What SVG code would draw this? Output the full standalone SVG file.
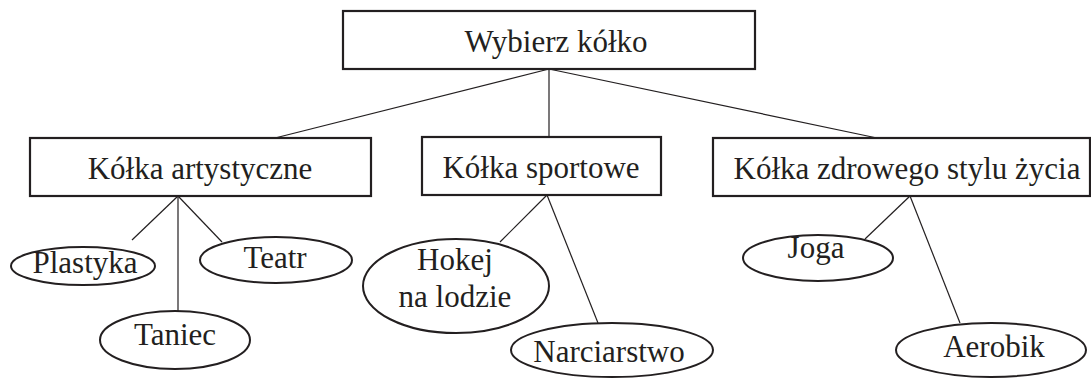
<svg xmlns="http://www.w3.org/2000/svg" width="1091" height="378" viewBox="0 0 1091 378">
<style>
.box{fill:#fff;stroke:#231f20;stroke-width:2.2}
.ell{fill:#fff;stroke:#231f20;stroke-width:2}
.con line{stroke:#231f20;stroke-width:1.2}
text{font-family:"Liberation Serif","Times New Roman",serif;font-size:31px;fill:#231f20;text-anchor:middle}
</style>
<rect width="1091" height="378" fill="#fff"/>
<g id="connectors" class="con">
<line x1="549" y1="69" x2="275" y2="138"/>
<line x1="549" y1="69" x2="549" y2="137"/>
<line x1="549" y1="69" x2="877" y2="138"/>
<line x1="178" y1="196" x2="132" y2="240"/>
<line x1="178" y1="196" x2="178" y2="312"/>
<line x1="178" y1="196" x2="222" y2="242"/>
<line x1="547" y1="195" x2="500" y2="242"/>
<line x1="547" y1="195" x2="598" y2="323"/>
<line x1="910" y1="196" x2="865" y2="239"/>
<line x1="910" y1="196" x2="960" y2="323"/>
</g>
<g id="root"><rect class="box" x="343" y="11" width="412" height="58"/><text x="556" y="52">Wybierz kółko</text></g>
<g id="artystyczne"><rect class="box" x="30" y="138" width="341" height="58"/><text x="200" y="179">Kółka artystyczne</text></g>
<g id="sportowe"><rect class="box" x="422" y="137" width="239" height="58"/><text x="541" y="178">Kółka sportowe</text></g>
<g id="zdrowego"><rect class="box" x="713" y="138" width="377" height="58"/><text x="907" y="179">Kółka zdrowego stylu życia</text></g>
<g id="plastyka"><ellipse class="ell" cx="83" cy="266" rx="72" ry="19"/><text x="85" y="273">Plastyka</text></g>
<g id="teatr"><ellipse class="ell" cx="276" cy="260" rx="76" ry="23"/><text x="275" y="268">Teatr</text></g>
<g id="taniec"><ellipse class="ell" cx="175" cy="340" rx="75" ry="29"/><text x="175" y="345">Taniec</text></g>
<g id="hokej"><ellipse class="ell" cx="456" cy="286" rx="93" ry="47"/><text x="455" y="270">Hokej</text><text x="455" y="307">na lodzie</text></g>
<g id="narciarstwo"><ellipse class="ell" cx="612" cy="350" rx="101" ry="27"/><text x="609" y="362">Narciarstwo</text></g>
<g id="joga"><ellipse class="ell" cx="818" cy="258" rx="75" ry="23"/><text x="816" y="258">Joga</text></g>
<g id="aerobik"><ellipse class="ell" cx="991" cy="350" rx="95" ry="27"/><text x="994" y="357">Aerobik</text></g>
</svg>
